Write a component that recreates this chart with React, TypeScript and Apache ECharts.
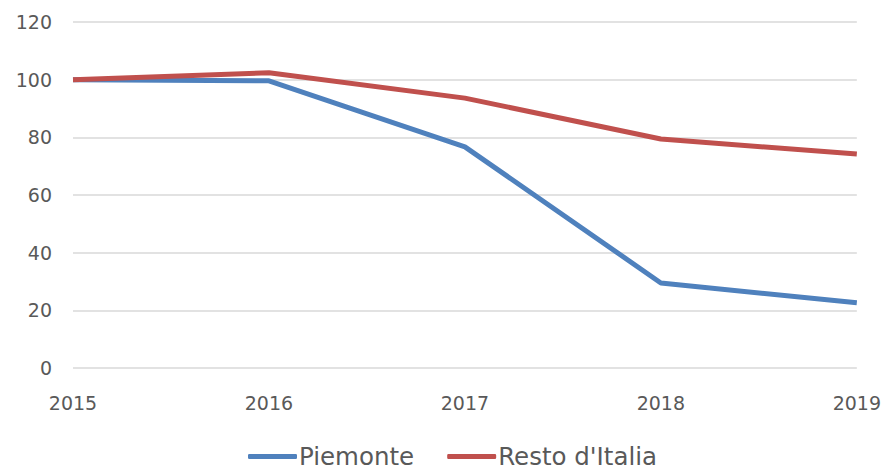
import React, { useEffect, useRef } from "react";
import * as echarts from "echarts";

const years = ["2015", "2016", "2017", "2018", "2019"];
const piemonte = [100, 99.6, 76.7, 29.5, 22.6];
const restoItalia = [100, 102.4, 93.6, 79.4, 74.2];
const yTicks = { min: 0, max: 120, interval: 20 };

const FONT = "DejaVu Sans";

export default function App() {
  const ref = useRef<HTMLDivElement>(null);
  useEffect(() => {
    if (!ref.current) return;
    const chart = echarts.init(ref.current, undefined, { renderer: "svg" });
    chart.setOption({
      animation: false,
      grid: { left: 73, right: 24, top: 22, bottom: 105, containLabel: false },
      legend: {
        bottom: -1,
        left: 243,
        icon: "roundRect",
        itemWidth: 49,
        itemHeight: 5,
        itemGap: 33,
        textStyle: { fontFamily: FONT, fontSize: 24.5, color: "#595959", padding: [0, 0, 0, -3] },
        data: ["Piemonte", "Resto d'Italia"],
      },
      xAxis: {
        type: "category",
        data: years,
        boundaryGap: false,
        axisLine: { show: false },
        axisTick: { show: false },
        axisLabel: { fontFamily: FONT, fontSize: 19, color: "#595959", margin: 25 },
        splitLine: { show: false },
      },
      yAxis: {
        type: "value",
        min: yTicks.min,
        max: yTicks.max,
        interval: yTicks.interval,
        axisLine: { show: false },
        axisTick: { show: false },
        axisLabel: { fontFamily: FONT, fontSize: 19, color: "#595959", margin: 21 },
        splitLine: { lineStyle: { color: "#d9d9d9", width: 1.5 } },
      },
      series: [
        {
          name: "Piemonte",
          type: "line",
          data: piemonte,
          symbol: "none",
          lineStyle: { color: "#4f81bd", width: 5 },
          itemStyle: { color: "#4f81bd" },
        },
        {
          name: "Resto d'Italia",
          type: "line",
          data: restoItalia,
          symbol: "none",
          lineStyle: { color: "#c0504d", width: 5 },
          itemStyle: { color: "#c0504d" },
        },
      ],
    });
    return () => chart.dispose();
  }, []);
  return <div ref={ref} style={{ width: 884, height: 473, position: "absolute", left: 0, top: 0 }} />;
}
